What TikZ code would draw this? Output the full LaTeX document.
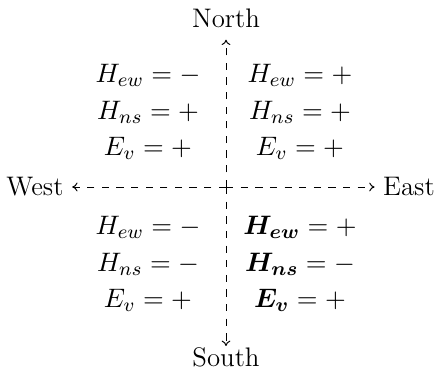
\documentclass[tikz,border=0pt]{standalone}
\usepackage{bm}
\usetikzlibrary{arrows.meta}
\begin{document}
\begin{tikzpicture}[x=0.41pt,y=-0.41pt,
  every node/.style={font=\fontsize{11}{13.6}\selectfont},
  axis/.style={dashed,-{To[length=2.2pt,width=3.6pt]}},
  quad/.style={align=center,inner sep=0pt}]
\useasboundingbox (0,0) rectangle (438,372);
\coordinate (O) at (226,187);
\node (N) at (226,18) {North};
\node (S) at (226,357) {South};
\node (W) at (35,187) {West};
\node (E) at (409,187) {East};
\draw[axis,shorten >=1.5pt] (O) -- (N);
\draw[axis,shorten >=-3pt] (O) -- (S);
\draw[axis] (O) -- (W);
\draw[axis] (O) -- (E);
\node[quad] (NW) at (148,112) {$H_{ew}=-$\\[1.5pt]$H_{ns}=+$\\[1.5pt]$E_v=+$};
\node[quad] (NE) at (300,112) {$H_{ew}=+$\\[1.5pt]$H_{ns}=+$\\[1.5pt]$E_v=+$};
\node[quad] (SW) at (148,264) {$H_{ew}=-$\\[1.5pt]$H_{ns}=-$\\[1.5pt]$E_v=+$};
\node[quad] (SE) at (300,264) {$\bm{H_{ew}}=+$\\[1.5pt]$\bm{H_{ns}}=-$\\[1.5pt]$\bm{E_v}=+$};
\end{tikzpicture}
\end{document}
